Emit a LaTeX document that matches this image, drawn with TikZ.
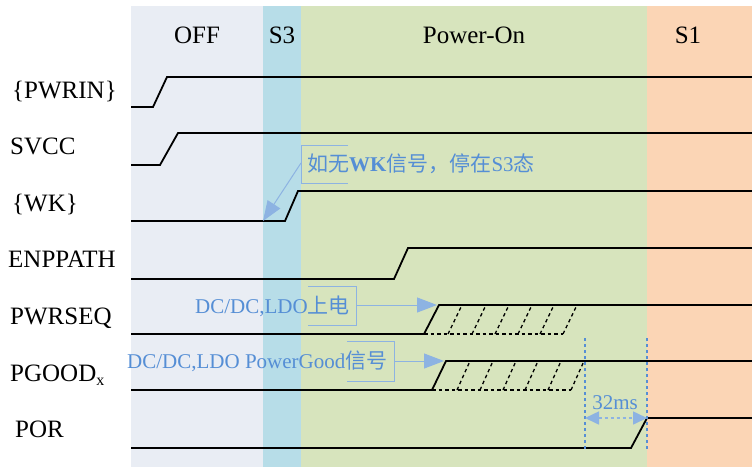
\documentclass[tikz,border=0pt]{standalone}
\usepackage{fontspec}
\setmainfont{Liberation Serif}
\newfontfamily\cjk{Noto Sans CJK SC}
\usetikzlibrary{arrows.meta}
\definecolor{offbg}{RGB}{233,237,244}
\definecolor{sthreebg}{RGB}{183,221,232}
\definecolor{onbg}{RGB}{215,228,189}
\definecolor{sonebg}{RGB}{251,213,181}
\definecolor{notetext}{RGB}{85,142,213}
\definecolor{noteline}{RGB}{141,179,226}
\tikzset{
  sig/.style={black, line width=1.8pt},
  hatch/.style={black, line width=1.3pt, dash pattern=on 3.5pt off 3pt},
  lbl/.style={font=\fontsize{25}{30}\selectfont, inner sep=0pt},
  note/.style={text=notetext, font=\fontsize{21}{25}\selectfont, inner sep=0pt},
  callout/.style={noteline, line width=1pt},
  pointer/.style={noteline, line width=1pt, -{Triangle[length=20pt,width=15pt]}},
  marker/.style={notetext, line width=1.6pt, dash pattern=on 3pt off 3pt},
  span/.style={noteline, line width=1.6pt, dash pattern=on 3pt off 3pt,
    {Triangle[length=14pt,width=13pt]}-{Triangle[length=14pt,width=13pt]}}
}
\begin{document}
\begin{tikzpicture}[x=1pt,y=-1pt]
        \useasboundingbox (0,0) rectangle (752,467);
        \fill[offbg] (131,6) rectangle (263,467);
        \fill[sthreebg] (263,6) rectangle (301,467);
        \fill[onbg] (301,6) rectangle (647,467);
        \fill[sonebg] (647,6) rectangle (752,467);
        \node[lbl, anchor=base] (off) at (197,43) {OFF};
        \node[lbl, anchor=base] (sthree) at (282,43) {S3};
        \node[lbl, anchor=base] (poweron) at (474,43) {Power-On};
        \node[lbl, anchor=base] (sone) at (688,43) {S1};
        \node[lbl, anchor=base west] (pwrin) at (12,98) {\{PWRIN\}};
        \node[lbl, anchor=base west] (svcc) at (10,154) {SVCC};
        \node[lbl, anchor=base west] (wk) at (12,211) {\{WK\}};
        \node[lbl, anchor=base west] (enppath) at (8,267) {ENPPATH};
        \node[lbl, anchor=base west] (pwrseq) at (10,324) {PWRSEQ};
        \node[lbl, anchor=base west] (pgood) at (10,381) {PGOOD\raisebox{-0.35ex}{\fontsize{16}{16}\selectfont x}};
        \node[lbl, anchor=base west] (por) at (15,437) {POR};
        \draw[sig] (131,107) -- (153,107) -- (167,77) -- (752,77);
        \draw[sig] (131,165) -- (160,165) -- (178,133) -- (752,133);
        \draw[sig] (131,221) -- (285,221) -- (298,191) -- (752,191);
        \draw[sig] (131,279) -- (394,279) -- (408,248) -- (752,248);
        \draw[sig] (131,334) -- (424,334) -- (439,305) -- (752,305);
        \draw[hatch] (424,334) -- (563,334);
        \foreach \x in {448,472,495,518,540,563}
            \draw[hatch] (\x,334) -- (\x+14,305);
        \draw[sig] (131,390) -- (432,390) -- (446,361) -- (752,361);
        \draw[hatch] (432,390) -- (571,390);
        \foreach \x in {457,480,503,525,548,571}
            \draw[hatch] (\x,390) -- (\x+13,361);
        \draw[sig] (131,448) -- (631,448) -- (647,418) -- (752,418);
        \coordinate (wklow) at (263,221);
        \coordinate (seqrise) at (437,305);
        \coordinate (goodrise) at (444,361);
        \node[note, anchor=base west] (wknote) at (307,171) {{\cjk 如无}\textbf{WK}{\cjk 信号，停在}S3{\cjk 态}};
        \draw[callout] (348,145) -- (301,145) -- (301,183) -- (348,183);
        \coordinate (wktab) at (301,163);
        \draw[pointer] (wktab) -- (wklow);
        \node[note, anchor=base west] (seqnote) at (195,313) {DC/DC,LDO{\cjk 上电}};
        \draw[callout] (308,286) -- (356,286) -- (356,325) -- (308,325);
        \coordinate (seqtab) at (356,305);
        \draw[pointer] (seqtab) -- (seqrise);
        \node[note, anchor=base west] (goodnote) at (127,368) {DC/DC,LDO PowerGood{\cjk 信号}};
        \draw[callout] (347,341) -- (394,341) -- (394,381) -- (347,381);
        \coordinate (goodtab) at (394,361);
        \draw[pointer] (goodtab) -- (goodrise);
        \coordinate (gate) at (585,338);
        \coordinate (gateend) at (585,449);
        \coordinate (porrise) at (647,338);
        \coordinate (porend) at (647,449);
        \draw[marker] (gate) -- (gateend);
        \draw[marker] (porrise) -- (porend);
        \draw[span] (585,418) -- (647,418);
        \node[note, anchor=base] (delay) at (615,409) {32ms};
    \end{tikzpicture}
\end{document}
